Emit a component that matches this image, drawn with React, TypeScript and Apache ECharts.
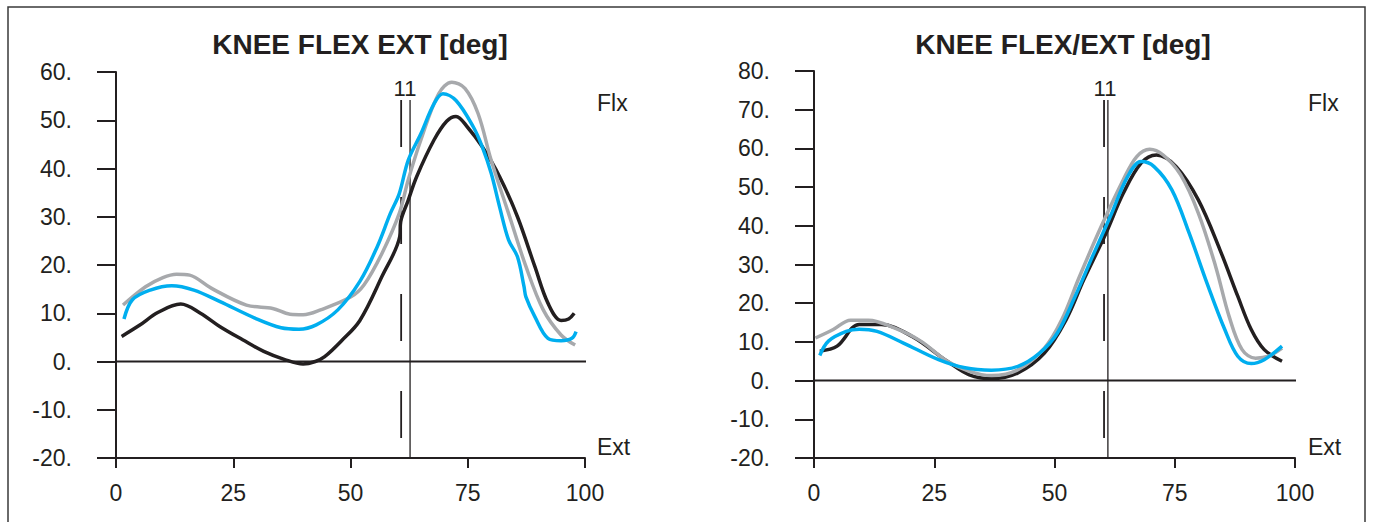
import React, { useEffect, useRef } from "react";
import * as echarts from "echarts";

const xTicks = [0, 25, 50, 75, 100];
const FONT = "Liberation Sans, Arial, Helvetica, sans-serif";

// Left panel: KNEE FLEX EXT
const leftBlack: [number, number][] = [
  [1.2, 5.2], [5, 7.5], [9, 10.2], [13.8, 11.9], [18, 10], [22.2, 7.2], [27, 4.5], [31.5, 2.1], [36, 0.4],
  [39.9, -0.5], [42.5, 0], [44.5, 1], [48, 4.2], [52, 8.5], [56.7, 17.6], [60.5, 25.9], [60.7, 29],
  [62.3, 33.4], [64.1, 38.3], [67.8, 45.9], [70.5, 49.8], [72.5, 50.8], [75, 48.5], [78.1, 44.5],
  [81.8, 38.3], [85.6, 30], [89.3, 19.7], [92.1, 12.1], [94.9, 8.5], [96.5, 8.8], [97.7, 10],
];
const leftGray: [number, number][] = [
  [1.5, 11.7], [6.3, 15.5], [10, 17.4], [12.9, 18.1], [15.7, 17.9], [20.3, 15.2], [27.8, 11.7], [33.4, 11],
  [37.1, 9.8], [39.9, 9.7], [43.6, 10.7], [50.1, 13.4], [52.9, 15.9], [56.7, 22.4], [60.4, 30.7],
  [62.3, 37.6], [65, 45.9], [68.8, 55.5], [71.6, 57.9], [74.4, 56.6], [77.2, 51.4], [80, 41.7],
  [83.7, 30.7], [87.4, 19.7], [91.1, 10.7], [94.9, 5.5], [97.9, 3.4],
];
const leftBlue: [number, number][] = [
  [1.7, 8.8], [3.5, 12.8], [7.3, 14.8], [11.9, 15.7], [16.6, 14.8], [22.2, 12.4], [29.6, 9], [35.2, 7],
  [39, 6.7], [42.7, 7.6], [47.3, 10.7], [52, 16.6], [55.7, 23.8], [58.5, 30.7], [60.4, 34.8],
  [62.3, 41.7], [65, 47.2], [67.8, 53.4], [69.7, 55.5], [72.5, 54.1], [76.2, 48.6], [78.1, 44.5],
  [80, 39], [81.8, 32], [83.7, 25.2], [85.6, 21.7], [87, 15.5], [87.4, 13.4], [89.3, 9.3], [92.1, 4.8],
  [94.9, 4.3], [97.2, 4.8], [98.1, 6.2],
];
const leftYTicks = { min: -20, max: 60, interval: 10 };
const leftEventSolid = 62.7;
const leftEventDashed = 60.8;
const leftEventTop = 54.2;

// Right panel: KNEE FLEX/EXT
const rightBlack: [number, number][] = [
  [1.2, 7.6], [4.8, 8.9], [9.4, 14.5], [14, 14.5], [20.4, 11.4], [27.7, 5], [32.3, 1.5], [36.9, 0.5],
  [42.4, 2], [47.9, 7.1], [52.4, 15.7], [56.1, 26.1], [60.7, 38.1], [64.3, 48.4], [68, 56.2],
  [71.2, 58.3], [75.3, 55.3], [79.9, 46.7], [84.4, 33.8], [88.1, 21.8], [90.9, 13.2], [93.6, 8],
  [97.3, 5],
];
const rightGray: [number, number][] = [
  [0.3, 11], [4, 13.2], [7.6, 15.6], [11.3, 15.6], [16.7, 13.6], [22.2, 10.2], [27.7, 5], [32.3, 2.4],
  [36.9, 1.3], [42.4, 2.8], [47.9, 8.4], [51.5, 15.7], [55.2, 26.9], [59.7, 39.8], [64.3, 51.9],
  [67.1, 57.9], [69.8, 59.8], [72.6, 58.3], [76.2, 53.2], [79.9, 43.3], [83.5, 29.5], [86.3, 16.6],
  [89, 8], [91.8, 5.8], [94.5, 6.3], [97.3, 8.4],
];
const rightBlue: [number, number][] = [
  [1.2, 6.5], [3, 10.2], [6.7, 12.7], [9.4, 13.3], [13.1, 12.7], [18.6, 9.7], [25.9, 5.4], [31.4, 3.3],
  [36.9, 2.7], [42.4, 3.7], [46.9, 7.1], [50.6, 12.3], [54.3, 21.8], [57.9, 32.1], [61.6, 42.4],
  [65.2, 52.7], [68, 56.6], [70.7, 55.3], [74.4, 49.3], [78, 38.1], [81.7, 25.2], [85.4, 13.2],
  [88.1, 6.3], [90.9, 4.4], [93.6, 5.4], [97.3, 8.9],
];
const rightYTicks = { min: -20, max: 80, interval: 10 };
const rightEventSolid = 61.1;
const rightEventDashed = 60.3;
const rightEventTop = 72.5;

const BLACK = "#231f20";
const GRAY = "#a7a9ac";
const BLUE = "#00aeef";

export default function App() {
  const ref = useRef<HTMLDivElement>(null);
  useEffect(() => {
    if (!ref.current) return;
    const chart = echarts.init(ref.current, null, { renderer: "svg" });

    const xAxis = (gridIndex: number) => ({
      type: "value",
      gridIndex,
      min: 0,
      max: 100,
      interval: 25,
      axisLine: { show: true, onZero: false, lineStyle: { color: BLACK, width: 2 } },
      axisTick: { show: true, inside: false, length: 10, lineStyle: { color: BLACK, width: 2 } },
      axisLabel: {
        margin: 23,
        fontSize: 23,
        color: BLACK,
        fontFamily: FONT,
        formatter: (v: number) => (xTicks.includes(v) ? String(v) : ""),
      },
      splitLine: { show: false },
    });
    const yAxis = (gridIndex: number, t: { min: number; max: number; interval: number }) => ({
      type: "value",
      gridIndex,
      min: t.min,
      max: t.max,
      interval: t.interval,
      axisLine: { show: true, onZero: false, lineStyle: { color: BLACK, width: 2 } },
      axisTick: { show: true, inside: false, length: 19, lineStyle: { color: BLACK, width: 2 } },
      axisLabel: { margin: 44, fontSize: 23, color: BLACK, fontFamily: FONT, formatter: (v: number) => v + "." },
      splitLine: { show: false },
    });
    const curve = (data: [number, number][], color: string, idx: number, z: number) => ({
      type: "line",
      xAxisIndex: idx,
      yAxisIndex: idx,
      data,
      smooth: 0.35,
      showSymbol: false,
      symbol: "none",
      z,
      lineStyle: { color, width: 3.5 },
    });
    const straight = (data: [number, number][], idx: number, width: number, dashed?: boolean) => ({
      type: "line",
      xAxisIndex: idx,
      yAxisIndex: idx,
      data,
      showSymbol: false,
      symbol: "none",
      silent: true,
      z: 1,
      lineStyle: { color: BLACK, width, type: dashed ? [47, 50] : "solid" },
    });

    chart.setOption({
      animation: false,
      backgroundColor: "#ffffff",
      title: [
        {
          text: "KNEE FLEX EXT [deg]",
          left: 355,
          top: 25,
          textAlign: "center",
          textStyle: { fontSize: 28, fontWeight: "bold", color: BLACK, fontFamily: FONT },
        },
        {
          text: "KNEE FLEX/EXT [deg]",
          left: 1058,
          top: 25,
          textAlign: "center",
          textStyle: { fontSize: 28, fontWeight: "bold", color: BLACK, fontFamily: FONT },
        },
      ],
      grid: [
        { left: 116, right: 788, top: 72, bottom: 64, containLabel: false },
        { left: 814, right: 78, top: 71, bottom: 64, containLabel: false },
      ],
      xAxis: [xAxis(0), xAxis(1)],
      yAxis: [yAxis(0, leftYTicks), yAxis(1, rightYTicks)],
      series: [
        straight([[0, 0], [100.5, 0]], 0, 2),
        straight([[leftEventSolid, leftEventTop], [leftEventSolid, -20]], 0, 1.3),
        straight([[leftEventDashed, leftEventTop], [leftEventDashed, -20]], 0, 1.8, true),
        curve(leftBlack, BLACK, 0, 3),
        curve(leftGray, GRAY, 0, 4),
        curve(leftBlue, BLUE, 0, 5),
        straight([[0, 0], [100.5, 0]], 1, 2),
        straight([[rightEventSolid, rightEventTop], [rightEventSolid, -20]], 1, 1.3),
        straight([[rightEventDashed, rightEventTop], [rightEventDashed, -20]], 1, 1.8, true),
        curve(rightBlack, BLACK, 1, 3),
        curve(rightGray, GRAY, 1, 4),
        curve(rightBlue, BLUE, 1, 5),
      ],
      graphic: [
        {
          type: "rect",
          shape: { x: 8, y: 7, width: 1357, height: 530 },
          style: { fill: "none", stroke: "#3a3a3a", lineWidth: 1.5 },
          silent: true,
        },
        { type: "text", x: 597, y: 103, style: { text: "Flx", fontSize: 23, fill: BLACK, fontFamily: FONT, textVerticalAlign: "middle" } },
        { type: "text", x: 597, y: 447, style: { text: "Ext", fontSize: 23, fill: BLACK, fontFamily: FONT, textVerticalAlign: "middle" } },
        { type: "text", x: 1308, y: 103, style: { text: "Flx", fontSize: 23, fill: BLACK, fontFamily: FONT, textVerticalAlign: "middle" } },
        { type: "text", x: 1308, y: 447, style: { text: "Ext", fontSize: 23, fill: BLACK, fontFamily: FONT, textVerticalAlign: "middle" } },
        { type: "text", x: 405, y: 88, style: { text: "11", fontSize: 22, fill: BLACK, fontFamily: FONT, textAlign: "center", textVerticalAlign: "middle" } },
        { type: "text", x: 1105, y: 88, style: { text: "11", fontSize: 22, fill: BLACK, fontFamily: FONT, textAlign: "center", textVerticalAlign: "middle" } },
      ],
    });
    return () => chart.dispose();
  }, []);
  return <div ref={ref} style={{ width: 1373, height: 522, position: "absolute", left: 0, top: 0 }} />;
}
